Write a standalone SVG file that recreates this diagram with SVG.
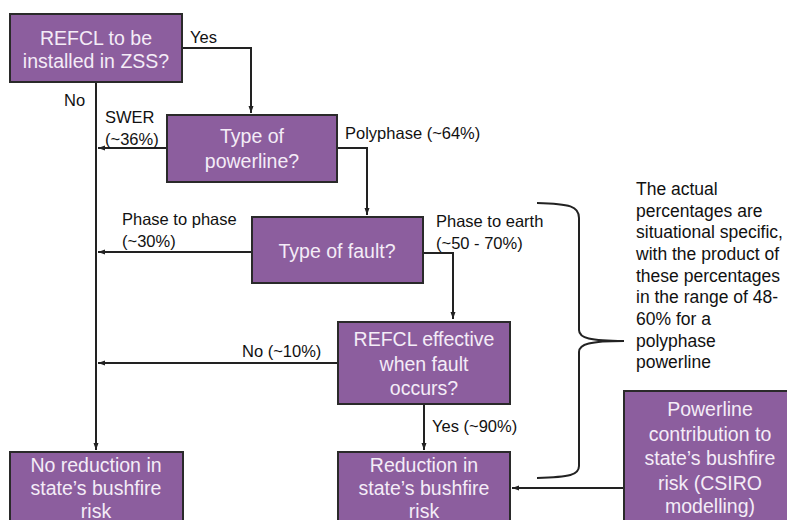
<svg xmlns="http://www.w3.org/2000/svg" width="787" height="520" viewBox="0 0 787 520">
<defs>
<marker id="ah" markerWidth="8" markerHeight="8" refX="7" refY="4" orient="auto" markerUnits="userSpaceOnUse">
<path d="M0,1.5 L7,4 L0,6.5 Z" fill="#222"/>
</marker>
<style>
.box{fill:#8c5e9e;stroke:#2a2a2a;stroke-width:2}
.bt{font-family:"Liberation Sans",Arial,sans-serif;font-size:19.5px;fill:#f4ecf7;text-anchor:middle}
.lbl{font-family:"Liberation Sans",Arial,sans-serif;font-size:16.5px;fill:#111}
.note{font-family:"Liberation Sans",Arial,sans-serif;font-size:17.5px;fill:#111}
.c{fill:none;stroke:#222;stroke-width:2}
</style>
</defs>
<rect width="787" height="520" fill="#fff"/>
<g id="connectors">
<path class="c" d="M182,48 H251 V113" marker-end="url(#ah)"/>
<path class="c" d="M96,82 V450" marker-end="url(#ah)"/>
<path class="c" d="M167,148 H98" marker-end="url(#ah)"/>
<path class="c" d="M337,148 H367 V215" marker-end="url(#ah)"/>
<path class="c" d="M252,252 H98" marker-end="url(#ah)"/>
<path class="c" d="M423,253 H453 V319" marker-end="url(#ah)"/>
<path class="c" d="M338,363 H98" marker-end="url(#ah)"/>
<path class="c" d="M424,404 V450" marker-end="url(#ah)"/>
<path class="c" d="M624,488 H512" marker-end="url(#ah)"/>
<path class="c" d="M537,203 C570,204 579,206 579,218 V330 C579,338 590,341 624,341 C590,341 579,344 579,352 V466 C579,475 570,477 537,478" stroke-width="1.8"/>
</g>
<g id="labels">
<text class="lbl" x="190" y="43">Yes</text>
<text class="lbl" x="64" y="106">No</text>
<text class="lbl" x="105" y="123">SWER</text>
<text class="lbl" x="105" y="145">(~36%)</text>
<text class="lbl" x="345" y="139">Polyphase (~64%)</text>
<text class="lbl" x="122" y="225">Phase to phase</text>
<text class="lbl" x="122" y="247">(~30%)</text>
<text class="lbl" x="436" y="227">Phase to earth</text>
<text class="lbl" x="436" y="249">(~50 - 70%)</text>
<text class="lbl" x="242" y="357">No (~10%)</text>
<text class="lbl" x="432" y="432">Yes (~90%)</text>
</g>
<g id="note">
<text class="note" x="636" y="195">The actual</text>
<text class="note" x="636" y="217">percentages are</text>
<text class="note" x="636" y="238">situational specific,</text>
<text class="note" x="636" y="260">with the product of</text>
<text class="note" x="636" y="282">these percentages</text>
<text class="note" x="636" y="303">in the range of 48-</text>
<text class="note" x="636" y="325">60% for a</text>
<text class="note" x="636" y="347">polyphase</text>
<text class="note" x="636" y="368">powerline</text>
</g>
<g id="n-refcl">
<rect class="box" x="10" y="14" width="172" height="68"/>
<text class="bt" x="96" y="45">REFCL to be</text>
<text class="bt" x="96" y="68">installed in ZSS?</text>
</g>
<g id="n-powerline">
<rect class="box" x="167" y="115" width="170" height="67"/>
<text class="bt" x="252" y="143">Type of</text>
<text class="bt" x="252" y="168">powerline?</text>
</g>
<g id="n-fault">
<rect class="box" x="252" y="217" width="171" height="66"/>
<text class="bt" x="337" y="258">Type of fault?</text>
</g>
<g id="n-effective">
<rect class="box" x="338" y="322" width="172" height="82"/>
<text class="bt" x="424" y="346">REFCL effective</text>
<text class="bt" x="424" y="371">when fault</text>
<text class="bt" x="424" y="395">occurs?</text>
</g>
<g id="n-noreduction">
<rect class="box" x="10" y="452" width="173" height="80"/>
<text class="bt" x="96" y="472">No reduction in</text>
<text class="bt" x="96" y="495">state’s bushfire</text>
<text class="bt" x="96" y="518">risk</text>
</g>
<g id="n-reduction">
<rect class="box" x="338" y="452" width="172" height="80"/>
<text class="bt" x="424" y="472">Reduction in</text>
<text class="bt" x="424" y="495">state’s bushfire</text>
<text class="bt" x="424" y="518">risk</text>
</g>
<g id="n-contribution">
<rect class="box" x="624" y="391" width="172" height="140"/>
<text class="bt" x="710" y="416">Powerline</text>
<text class="bt" x="710" y="441">contribution to</text>
<text class="bt" x="710" y="465">state’s bushfire</text>
<text class="bt" x="710" y="490">risk (CSIRO</text>
<text class="bt" x="710" y="513">modelling)</text>
</g>
</svg>
